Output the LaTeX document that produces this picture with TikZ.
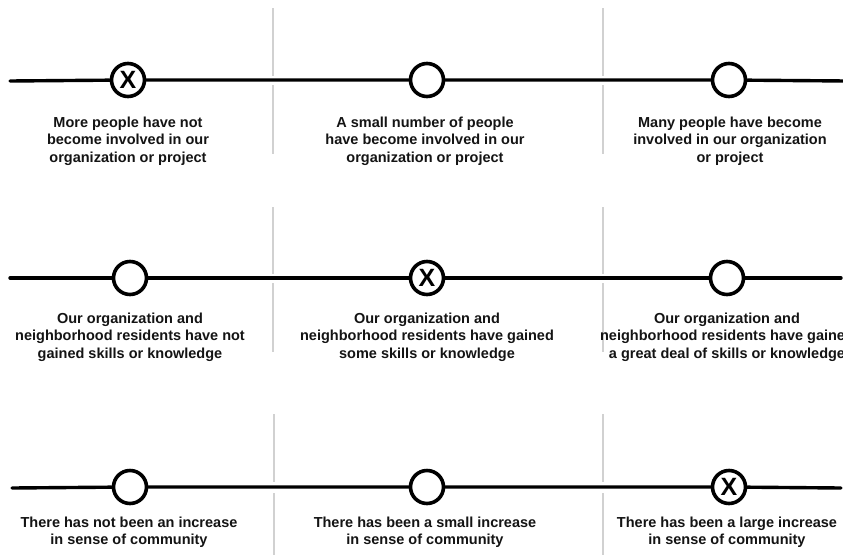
\documentclass[tikz,border=0pt]{standalone}
\usepackage{fontspec}
\setmainfont{Liberation Sans}
\begin{document}
\begin{tikzpicture}[x=1pt,y=-1pt,
  choice/.style={circle,draw=black,line width=3.6pt,fill=white,minimum size=33pt,inner sep=0pt,font=\bfseries\fontsize{25}{25}\selectfont},
  scaleline/.style={line width=3.4pt,line cap=round},
  divider/.style={draw=black!18,line width=1.5pt},
  caption/.style={align=center,font=\bfseries\fontsize{14.5}{17.5}\selectfont,text=black!92}]
\useasboundingbox (0,0) rectangle (843,555);
\clip (0,0) rectangle (843,555);
\fill[white] (0,0) rectangle (843,555);

% ---- row 1 ----
\draw[divider] (273,8) -- (273,76) (273,85) -- (273,154);
\draw[divider] (603,8) -- (603,76) (603,85) -- (603,154);
\coordinate (s1) at (10,81);
\coordinate (e1) at (846,81);
\node[choice] (a1) at (128,80) {X};
\node[choice] (a2) at (427,80) {};
\node[choice] (a3) at (729,80) {};
\draw[scaleline] (s1) -- (a1) (a1) -- (a2) (a2) -- (a3) (a3) -- (e1);
\node[caption] (ta1) at (128,141) {More people have not\\become involved in our\\organization or project};
\node[caption] (ta2) at (425,141) {A small number of people\\have become involved in our\\organization or project};
\node[caption] (ta3) at (730,141) {Many people have become\\involved in our organization\\or project};

% ---- row 2 ----
\draw[divider] (273,207) -- (273,274) (273,283) -- (273,352);
\draw[divider] (603,207) -- (603,274) (603,283) -- (603,352);
\coordinate (s2) at (10,278);
\coordinate (e2) at (841,278);
\node[choice] (b1) at (130,278) {};
\node[choice] (b2) at (427,278) {X};
\node[choice] (b3) at (727,278) {};
\draw[scaleline] (s2) -- (b1) (b1) -- (b2) (b2) -- (b3) (b3) -- (e2);
\node[caption] (tb1) at (130,337) {Our organization and\\neighborhood residents have not\\gained skills or knowledge};
\node[caption] (tb2) at (427,337) {Our organization and\\neighborhood residents have gained\\some skills or knowledge};
\node[caption] (tb3) at (727,337) {Our organization and\\neighborhood residents have gained\\a great deal of skills or knowledge};

% ---- row 3 ----
\draw[divider] (274,414) -- (274,482) (274,493) -- (274,555);
\draw[divider] (603,414) -- (603,482) (603,493) -- (603,555);
\coordinate (s3) at (12,488);
\coordinate (e3) at (841,488);
\node[choice] (c1) at (130,487) {};
\node[choice] (c2) at (427,487) {};
\node[choice] (c3) at (729,487) {X};
\draw[scaleline] (s3) -- (c1) (c1) -- (c2) (c2) -- (c3) (c3) -- (e3);
\node[caption] (tc1) at (129,532) {There has not been an increase\\in sense of community};
\node[caption] (tc2) at (425,532) {There has been a small increase\\in sense of community};
\node[caption] (tc3) at (727,532) {There has been a large increase\\in sense of community};
\end{tikzpicture}
\end{document}
